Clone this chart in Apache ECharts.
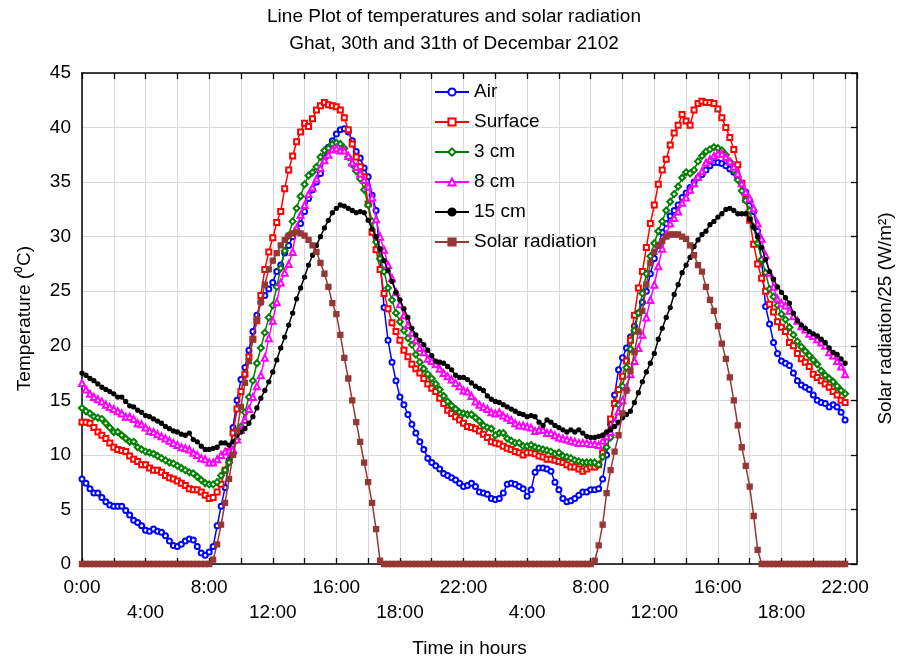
<!DOCTYPE html>
<html>
<head>
<meta charset="utf-8">
<script src="https://cdn.jsdelivr.net/npm/echarts@6/dist/echarts.min.js"></script>
<style>
html,body{margin:0;padding:0;background:#fff;}
#chart{width:897px;height:664px;}
</style>
</head>
<body>
<div id="chart"></div>
<script>
// Tick labels shown every 2 grid intervals (each grid interval = 8 samples of 15 min)
var timeLabels = ['0:00','4:00','8:00','12:00','16:00','18:00','22:00','4:00','8:00','12:00','16:00','18:00','22:00'];
var seriesNames = ['Air','Surface','3 cm','8 cm','15 cm','Solar radiation'];

var airTemp = [
7.8,7.4,6.9,6.5,6.5,6.1,5.7,5.4,
5.3,5.3,5.3,4.9,4.5,4.0,3.8,3.5,
3.1,3.0,3.2,3.0,2.9,2.6,2.1,1.7,
1.6,1.8,2.1,2.3,2.2,1.6,1.0,0.8,
1.1,1.6,3.5,5.3,7.0,9.5,12.5,15.0,
16.9,18.0,19.6,21.3,22.8,24.0,24.6,25.2,
25.8,26.8,27.4,28.5,29.2,30.0,30.6,31.2,
32.3,33.5,34.3,35.0,35.8,37.2,38.2,38.8,
39.4,39.8,39.9,39.6,38.8,37.8,37.2,36.3,
35.5,33.8,32.4,28.0,23.5,20.5,18.5,16.8,
15.3,14.6,13.7,12.8,12.0,11.2,10.5,9.7,
9.3,9.0,8.7,8.3,8.1,7.9,7.7,7.4,
7.1,7.2,7.4,7.1,6.6,6.5,6.4,6.0,
5.9,6.0,6.5,7.3,7.4,7.3,7.1,6.9,
6.2,6.8,8.4,8.8,8.8,8.7,8.5,7.5,
6.8,6.0,5.7,5.8,6.0,6.3,6.6,6.6,
6.8,6.8,6.9,7.8,10.0,12.8,15.5,17.8,
18.9,19.8,20.8,21.8,23.0,24.0,25.0,26.6,
28.0,29.2,30.4,31.2,31.9,32.4,32.9,33.6,
34.0,34.5,35.0,35.4,35.7,36.1,36.5,36.8,
36.8,36.7,36.5,36.2,35.9,35.4,34.9,34.1,
33.3,32.3,30.5,27.8,23.6,22.0,20.3,19.3,
18.6,18.4,18.2,17.5,16.8,16.4,16.2,16.0,
15.5,15.0,14.8,14.7,14.4,14.6,14.4,13.9,
13.2];

var surfaceTemp = [
13.0,13.0,12.9,12.5,12.1,11.8,11.5,11.1,
10.7,10.5,10.4,10.3,9.9,9.6,9.4,9.1,
9.1,8.8,8.6,8.6,8.4,8.1,7.9,7.8,
7.6,7.4,7.2,6.9,6.8,6.8,6.6,6.3,
6.0,6.1,6.6,7.3,8.6,10.3,12.0,14.2,
15.8,17.4,19.0,20.6,22.3,24.6,27.0,28.6,
29.9,31.3,32.3,34.4,36.1,37.4,38.7,39.6,
40.4,40.1,40.8,41.6,42.0,42.3,42.1,42.0,
41.9,41.6,40.9,39.8,38.5,37.3,36.4,35.5,
33.0,30.4,28.8,27.0,24.8,23.4,22.1,21.3,
20.5,19.6,19.0,18.3,17.9,17.5,17.0,16.5,
16.1,15.8,15.2,14.7,14.1,13.8,13.5,13.2,
12.9,12.6,12.5,12.4,12.2,11.9,11.6,11.2,
11.1,11.0,10.8,10.6,10.5,10.3,10.2,10.0,
10.2,10.2,10.1,9.9,9.8,9.6,9.6,9.5,
9.4,9.3,9.1,8.9,8.9,8.7,8.5,8.7,
8.9,8.9,9.1,10.2,11.8,13.3,14.7,16.0,
17.2,18.6,20.5,22.8,25.3,26.8,29.0,31.2,
32.9,34.8,36.1,37.1,38.4,39.5,40.2,41.2,
40.6,40.2,41.6,42.2,42.4,42.3,42.3,42.2,
41.7,40.9,40.0,39.1,38.0,36.6,34.9,33.4,
31.5,29.3,27.5,26.2,25.0,23.8,23.1,22.2,
21.7,21.3,20.3,20.0,19.3,18.8,18.5,18.1,
17.4,17.1,16.8,16.5,16.2,15.8,15.5,15.0,
14.8];

var temp3cm = [
14.3,14.0,13.8,13.5,13.4,13.3,12.9,12.5,
12.1,12.1,11.8,11.5,11.2,11.2,10.7,10.5,
10.3,10.2,10.1,9.9,9.7,9.5,9.3,9.2,
9.0,8.8,8.6,8.4,8.3,8.0,7.7,7.4,
7.3,7.3,7.5,8.1,8.6,9.3,10.1,11.4,
12.6,13.9,15.3,16.8,18.4,19.8,21.2,22.6,
23.7,25.4,27.1,28.7,30.1,31.4,32.6,33.7,
34.8,35.6,35.9,36.4,37.3,37.9,38.1,38.5,
38.6,38.5,38.1,37.3,36.6,36.0,35.3,34.3,
32.9,31.4,29.5,28.0,26.8,25.3,24.2,23.0,
22.2,21.4,20.7,20.1,19.2,18.5,17.9,17.4,
17.0,16.5,16.0,15.4,14.9,14.5,14.2,13.9,
13.8,13.7,13.7,13.4,13.1,12.7,12.5,12.4,
11.8,12.0,12.0,11.5,11.3,11.1,11.1,10.8,
10.8,10.9,10.7,10.6,10.5,10.4,10.3,10.1,
10.2,9.9,9.8,9.7,9.5,9.4,9.3,9.3,
9.3,9.3,9.1,9.8,10.7,11.6,13.0,14.6,
16.3,18.0,19.7,21.4,23.0,24.8,26.6,28.2,
29.4,30.5,31.4,32.4,33.2,33.9,34.6,35.4,
35.9,35.8,36.1,36.9,37.4,37.8,38.0,38.2,
38.1,37.9,37.5,36.9,36.1,35.2,34.2,33.3,
32.4,30.9,29.4,27.9,26.7,25.2,24.5,23.7,
22.9,22.4,21.7,21.0,20.4,19.9,19.5,19.1,
18.7,18.3,17.7,17.3,17.0,16.7,16.3,15.9,
15.6];

var temp8cm = [
16.6,16.0,15.6,15.3,15.1,14.9,14.6,14.4,
14.2,14.0,13.8,13.5,13.5,13.3,12.9,12.8,
12.5,12.2,12.1,11.9,11.7,11.5,11.3,11.1,
10.9,10.7,10.6,10.5,10.2,10.0,9.7,9.6,
9.3,9.3,9.6,10.0,10.3,10.4,10.5,11.4,
12.3,13.2,14.2,15.3,16.3,17.3,18.9,20.7,
22.3,24.0,25.8,26.7,27.5,28.6,30.8,32.0,
32.9,33.9,34.5,35.3,36.3,37.0,37.5,38.0,
38.1,37.9,37.9,37.4,36.8,36.4,35.8,35.2,
34.6,33.6,31.6,30.0,28.8,27.4,26.2,24.9,
23.8,22.8,21.9,21.2,20.5,19.8,19.4,18.8,
18.6,18.3,17.9,17.5,17.2,16.9,16.6,16.3,
15.9,15.8,15.4,14.9,14.6,14.4,14.2,13.9,
13.8,13.9,13.6,13.4,13.2,12.9,12.7,12.7,
12.6,12.5,12.2,12.3,12.3,12.0,12.0,11.8,
11.6,11.5,11.4,11.3,11.2,11.1,11.1,11.1,
11.0,11.0,10.9,11.3,11.7,12.1,13.0,14.0,
15.0,16.2,17.4,18.6,19.8,21.0,22.6,24.2,
25.6,27.3,28.9,30.2,31.2,31.7,32.3,33.1,
33.6,34.3,34.9,35.5,36.0,36.8,37.1,37.4,
37.6,37.6,37.3,36.9,36.4,35.8,34.9,34.1,
33.5,32.6,31.2,29.8,28.3,26.7,25.4,24.3,
23.9,23.7,23.2,22.7,22.3,21.8,21.5,21.1,
20.9,20.6,20.3,20.0,19.4,19.1,18.6,18.1,
17.4];

var temp15cm = [
17.5,17.3,17.0,16.8,16.5,16.2,16.0,15.8,
15.6,15.3,15.3,14.9,14.5,14.4,14.1,13.9,
13.6,13.5,13.3,13.1,12.9,12.6,12.4,12.2,
12.1,11.9,11.8,12.0,11.4,11.2,10.8,10.5,
10.5,10.6,10.7,11.1,11.1,10.9,11.2,11.8,
12.1,12.4,12.9,13.5,14.3,15.2,15.9,16.7,
17.6,18.7,19.8,20.8,21.9,23.0,24.3,25.3,
26.3,27.4,28.3,29.2,30.0,30.8,31.5,32.2,
32.6,32.9,32.8,32.6,32.4,32.2,32.3,32.2,
31.5,30.7,30.0,28.9,27.8,26.9,25.9,24.9,
24.2,23.4,22.6,21.6,21.0,20.5,20.1,19.6,
19.1,18.6,18.5,18.4,18.1,17.8,17.3,17.1,
17.1,16.9,16.6,16.3,16.1,15.9,15.4,15.1,
14.9,14.8,14.6,14.4,14.2,14.0,13.8,13.7,
13.5,13.6,13.5,13.0,12.7,13.2,13.0,12.7,
12.5,12.3,12.1,12.3,12.1,12.3,12.0,11.7,
11.6,11.6,11.7,11.8,12.1,12.3,12.6,13.0,
13.4,13.7,14.0,14.8,15.7,16.7,17.6,18.4,
19.3,20.6,21.6,22.6,23.5,24.7,25.6,26.7,
27.4,28.1,29.1,29.7,30.2,30.5,31.1,31.4,
31.8,32.1,32.5,32.6,32.4,32.1,32.1,32.1,
31.6,30.9,30.0,29.0,27.9,26.8,26.1,25.4,
24.9,24.4,23.9,23.0,22.3,21.9,21.6,21.3,
21.1,20.9,20.6,20.3,19.8,19.4,19.2,18.8,
18.4];

// Solar radiation divided by 25 (W/m2)
var solarRad = [
0,0,0,0,0,0,0,0,
0,0,0,0,0,0,0,0,
0,0,0,0,0,0,0,0,
0,0,0,0,0,0,0,0,
0,0.4,1.8,3.6,5.6,7.8,10.0,12.2,
14.4,16.6,18.6,20.6,22.4,24.0,25.6,27.0,
27.8,28.5,29.2,29.7,30.1,30.3,30.4,30.3,
30.1,29.7,29.2,28.6,27.6,26.6,25.4,23.9,
22.9,21.0,18.9,17.0,15.0,13.0,11.2,9.3,
7.5,5.6,3.2,0.3,0,0,0,0,
0,0,0,0,0,0,0,0,
0,0,0,0,0,0,0,0,
0,0,0,0,0,0,0,0,
0,0,0,0,0,0,0,0,
0,0,0,0,0,0,0,0,
0,0,0,0,0,0,0,0,
0,0.3,1.7,3.6,6.5,8.6,10.3,11.8,
13.8,15.9,17.7,19.4,21.3,23.2,25.6,27.6,
28.6,29.2,29.6,30.0,30.2,30.2,30.2,30.0,
29.8,29.2,28.3,27.4,26.8,25.4,24.2,23.2,
21.8,20.2,18.8,17.1,15.0,12.7,10.7,9.0,
7.1,4.4,1.3,0,0,0,0,0,
0,0,0,0,0,0,0,0,
0,0,0,0,0,0,0,0,
0];

var seriesValues = [airTemp, surfaceTemp, temp3cm, temp8cm, temp15cm, solarRad];
var seriesColors = ['#0000ff','#ff0000','#008000','#ff00ff','#000000','#953735'];
var seriesSymbols = ['emptyCircle','emptyRect','emptyDiamond','emptyTriangle','circle','rect'];
var seriesSymbolSizes = [5,5,6,6,4,5];

var FONT = 'Liberation Sans, Arial, sans-serif';

var chart = echarts.init(document.getElementById('chart'), null, {renderer:'canvas'});

var series = seriesNames.map(function(name, s){
  return {
    name: name,
    type: 'line',
    xAxisIndex: 0,
    yAxisIndex: 0,
    data: seriesValues[s].map(function(v, i){ return [i, v]; }),
    symbol: seriesSymbols[s],
    symbolSize: seriesSymbolSizes[s],
    showAllSymbol: true,
    color: seriesColors[s],
    lineStyle: {width: 1.5, color: seriesColors[s]},
    itemStyle: {color: seriesColors[s], borderColor: seriesColors[s], borderWidth: 1.3},
    animation: false,
    z: 2 + s
  };
});

var option = {
  backgroundColor: '#ffffff',
  animation: false,
  title: {
    text: 'Line Plot of temperatures and solar radiation\nGhat, 30th and 31th of Decembar 2102',
    left: 454,
    textAlign: 'center',
    top: 3,
    padding: 0,
    textStyle: {fontFamily: FONT, fontSize: 19, fontWeight: 'normal', color: '#000', lineHeight: 27}
  },
  legend: {
    orient: 'vertical',
    left: 434,
    top: 82,
    padding: 0,
    itemWidth: 34,
    itemHeight: 9,
    itemGap: 10,
    data: seriesNames,
    textStyle: {fontFamily: FONT, fontSize: 19, color: '#000', lineHeight: 20},
    backgroundColor: 'transparent'
  },
  grid: {left: 82, top: 73, right: 40, bottom: 100, containLabel: false, outerBoundsMode: 'none'},
  xAxis: [{
    type: 'value',
    min: 0,
    max: 195,
    interval: 8,
    position: 'bottom',
    name: 'Time in hours',
    nameLocation: 'middle',
    nameGap: 75,
    nameTextStyle: {fontFamily: FONT, fontSize: 19, color: '#000'},
    axisLine: {show: true, onZero: false, lineStyle: {color: '#000', width: 1.5}},
    axisTick: {show: true, inside: true, length: 6, lineStyle: {color: '#000', width: 1.3}},
    splitLine: {show: true, lineStyle: {color: '#d9d9d9', width: 1}},
    axisLabel: {
      fontFamily: FONT, fontSize: 19, color: '#000', margin: 11, lineHeight: 25,
      showMinLabel: true, showMaxLabel: false,
      formatter: function(v){
        if (v % 16 !== 0) return '';
        var k = v / 16;
        var t = timeLabels[k];
        if (t === undefined) return '';
        return (k % 2 === 1) ? '\n' + t : t;
      }
    }
  }, {
    type: 'value',
    min: 0,
    max: 195,
    interval: 8,
    position: 'top',
    axisLine: {show: true, onZero: false, lineStyle: {color: '#000', width: 1.5}},
    axisTick: {show: true, inside: true, length: 6, lineStyle: {color: '#000', width: 1.3}},
    splitLine: {show: false},
    axisLabel: {show: false}
  }],
  yAxis: [{
    type: 'value',
    min: 0,
    max: 45,
    interval: 5,
    position: 'left',
    name: 'Temperature (\u2070C)',
    nameLocation: 'middle',
    nameRotate: 90,
    nameGap: 48,
    nameTextStyle: {fontFamily: FONT, fontSize: 19, color: '#000'},
    axisLine: {show: true, onZero: false, lineStyle: {color: '#000', width: 1.5}},
    axisTick: {show: false},
    splitLine: {show: true, lineStyle: {color: '#d9d9d9', width: 1}},
    axisLabel: {fontFamily: FONT, fontSize: 19, color: '#000', margin: 11}
  }, {
    type: 'value',
    min: 0,
    max: 45,
    interval: 5,
    position: 'right',
    name: 'Solar radiation/25 (W/m\u00b2)',
    nameLocation: 'middle',
    nameRotate: 90,
    nameGap: 19,
    nameTextStyle: {fontFamily: FONT, fontSize: 19, color: '#000'},
    axisLine: {show: true, onZero: false, lineStyle: {color: '#000', width: 1.5}},
    axisTick: {show: true, inside: true, length: 6, lineStyle: {color: '#000', width: 1.3}},
    splitLine: {show: false},
    axisLabel: {show: false}
  }],
  series: series
};

chart.setOption(option);
</script>
</body>
</html>
